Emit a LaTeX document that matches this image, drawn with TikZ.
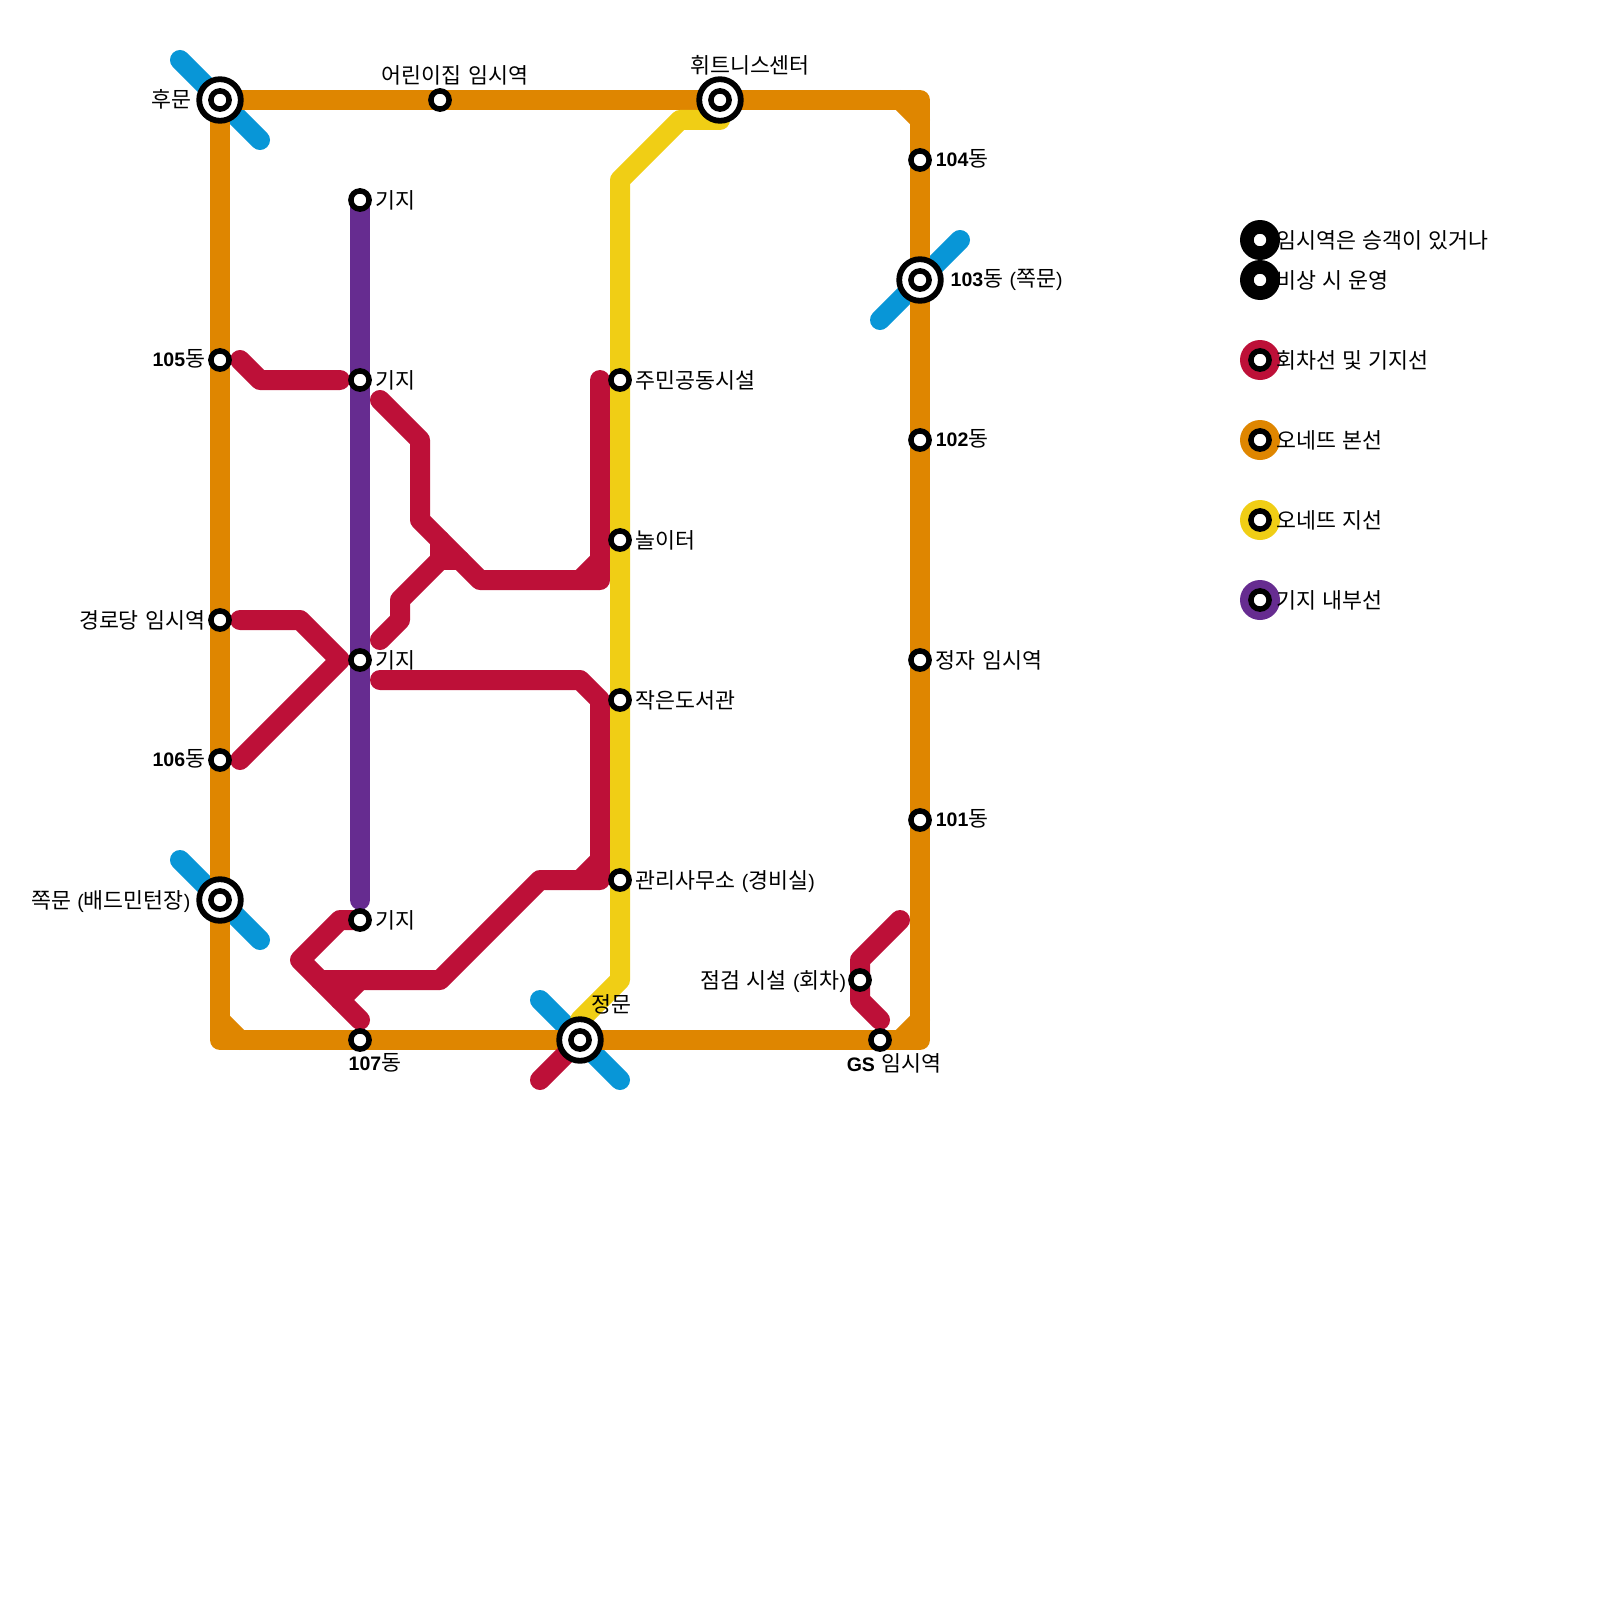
\documentclass[tikz,border=0pt]{standalone}
\usepackage{fontspec}
\setmainfont[WordSpace=1.3]{Noto Sans CJK KR}
\newfontfamily\latinf[Scale=0.9]{Liberation Sans}
\usepackage{tikz}
\usetikzlibrary{positioning, backgrounds}
\usepackage{xcolor}
\definecolor{mainorange}{HTML}{DF8600}
\definecolor{gateblue}{HTML}{0896D7}
\definecolor{depotred}{HTML}{BD1038}
\definecolor{branchyellow}{HTML}{F0CE15}
\definecolor{basepurple}{HTML}{662C90}
\newcommand{\bnum}[1]{{\latinf\bfseries #1}}
\newcommand{\pl}[1]{{\latinf #1}}

\begin{document}
\begin{tikzpicture}[
    x=1pt, y=-1pt,
    route/.style={line width=20pt, line cap=round, line join=round},
    stn/.style={circle, draw=black, fill=white, line width=5.5pt, minimum size=18.2pt, inner sep=0pt},
    hub/.style={circle, draw=black, fill=white, line width=5.8pt, minimum size=41.6pt, inner sep=0pt, label={[stn]center:}},
    legdot/.style={circle, minimum size=40pt, inner sep=0pt, label={[stn]center:}},
    lbl/.style={inner sep=0pt, outer sep=0pt, text height=19pt, text depth=3pt, font=\fontsize{21.7pt}{22pt}\selectfont},
    numlbl/.style={lbl, yshift=2pt}
]
\useasboundingbox (0,0) rectangle (1600,1600);

% stations
\node[hub] (humun) at (220,100) {};
\node[stn] (daycare) at (440,100) {};
\node[hub] (fitness) at (720,100) {};
\node[stn] (dong104) at (920,160) {};
\node[hub] (dong103) at (920,280) {};
\node[stn] (dong102) at (920,440) {};
\node[stn] (gazebo) at (920,660) {};
\node[stn] (dong101) at (920,820) {};
\node[stn] (gs) at (880,1040) {};
\node[hub] (jeongmun) at (580,1040) {};
\node[stn] (dong107) at (360,1040) {};
\node[hub] (jjokmun) at (220,900) {};
\node[stn] (dong106) at (220,760) {};
\node[stn] (seniors) at (220,620) {};
\node[stn] (dong105) at (220,360) {};
\node[stn] (basea) at (360,200) {};
\node[stn] (baseb) at (360,380) {};
\node[stn] (basec) at (360,660) {};
\node[stn] (based) at (360,920) {};
\node[stn] (center) at (620,380) {};
\node[stn] (playground) at (620,540) {};
\node[stn] (library) at (620,700) {};
\node[stn] (office) at (620,880) {};
\node[stn] (inspect) at (860,980) {};

% station labels
\node[lbl, left=5pt of humun] (humunl) {후문};
\node[lbl, above=2pt of daycare, xshift=15pt] (daycarel) {어린이집 임시역};
\node[lbl, above=0pt of fitness, xshift=30pt] (fitnessl) {휘트니스센터};
\node[numlbl, right=4pt of dong104] (dong104l) {\bnum{104}동};
\node[numlbl, right=7pt of dong103] (dong103l) {\bnum{103}동 \pl{(}쪽문\pl{)}};
\node[numlbl, right=4pt of dong102] (dong102l) {\bnum{102}동};
\node[lbl, right=4pt of gazebo] (gazebol) {정자 임시역};
\node[numlbl, right=4pt of dong101] (dong101l) {\bnum{101}동};
\node[lbl, below=1pt of gs, xshift=14pt] (gsl) {\bnum{GS} 임시역};
\node[lbl, above=1pt of jeongmun, xshift=31pt] (jeongmunl) {정문};
\node[lbl, below=0pt of dong107, xshift=15pt] (dong107l) {\bnum{107}동};
\node[lbl, left=6pt of jjokmun] (jjokmunl) {쪽문 \pl{(}배드민턴장\pl{)}};
\node[numlbl, left=3pt of dong106] (dong106l) {\bnum{106}동};
\node[lbl, left=3pt of seniors] (seniorsl) {경로당 임시역};
\node[numlbl, left=3pt of dong105] (dong105l) {\bnum{105}동};
\node[lbl, right=4pt of basea] (basear) {기지};
\node[lbl, right=4pt of baseb] (basebr) {기지};
\node[lbl, right=4pt of basec] (basecr) {기지};
\node[lbl, right=4pt of based] (basedr) {기지};
\node[lbl, right=4pt of center] (centerl) {주민공동시설};
\node[lbl, right=4pt of playground] (playgroundl) {놀이터};
\node[lbl, right=4pt of library] (libraryl) {작은도서관};
\node[lbl, right=4pt of office] (officel) {관리사무소 \pl{(}경비실\pl{)}};
\node[lbl, left=2pt of inspect] (inspectl) {점검 시설 \pl{(}회차\pl{)}};

% legend
\node[legdot, fill=black] (lega) at (1260,240) {};
\node[legdot, fill=black] (legb) at (1260,280) {};
\node[legdot, fill=depotred] (legc) at (1260,360) {};
\node[legdot, fill=mainorange] (legd) at (1260,440) {};
\node[legdot, fill=branchyellow] (lege) at (1260,520) {};
\node[legdot, fill=basepurple] (legf) at (1260,600) {};
\node[lbl, right=-4pt of lega] {임시역은 승객이 있거나};
\node[lbl, right=-4pt of legb] {비상 시 운영};
\node[lbl, right=-4pt of legc] {회차선 및 기지선};
\node[lbl, right=-4pt of legd] {오네뜨 본선};
\node[lbl, right=-4pt of lege] {오네뜨 지선};
\node[lbl, right=-4pt of legf] {기지 내부선};

\begin{scope}[on background layer]
% gate crossings
\draw[route, gateblue] (180,60) -- (humun.center) -- (260,140);
\draw[route, gateblue] (180,860) -- (jjokmun.center) -- (260,940);
\draw[route, gateblue] (960,240) -- (dong103.center) -- (880,320);
\draw[route, gateblue] (540,1000) -- (jeongmun.center) -- (620,1080);
% main loop
\draw[route, mainorange] (humun.center) -- (fitness.center) -- (920,100) -- (dong103.center) -- (920,1040) -- (jeongmun.center) -- (220,1040) -- cycle;
\draw[route, mainorange] (900,100) -- (920,120);
\draw[route, mainorange] (920,1020) -- (900,1040);
\draw[route, mainorange] (240,1040) -- (220,1020);
% depot tracks
\draw[route, depotred] (240,360) -- (260,380) -- (340,380);
\draw[route, depotred] (380,400) -- (420,440) -- (420,520) -- (480,580) -- (600,580) -- (600,380);
\draw[route, depotred] (580,580) -- (600,560);
\draw[route, depotred] (380,640) -- (400,620) -- (400,600) -- (440,560) -- (440,540);
\draw[route, depotred] (440,560) -- (460,560);
\draw[route, depotred] (380,680) -- (580,680) -- (600,700) -- (600,880) -- (540,880) -- (440,980) -- (320,980);
\draw[route, depotred] (580,880) -- (600,860);
\draw[route, depotred] (based.center) -- (340,920) -- (300,960) -- (360,1020);
\draw[route, depotred] (340,1000) -- (360,980);
\draw[route, depotred] (240,620) -- (300,620) -- (340,660) -- (240,760);
\draw[route, depotred] (900,920) -- (860,960) -- (860,1000) -- (880,1020);
\draw[route, depotred] (540,1080) -- (jeongmun.center);
% branch
\draw[route, branchyellow] (720,120) -- (680,120) -- (620,180) -- (620,980) -- (580,1020);
% base line
\draw[route, basepurple] (basea.center) -- (360,900);
\end{scope}
\end{tikzpicture}
\end{document}
